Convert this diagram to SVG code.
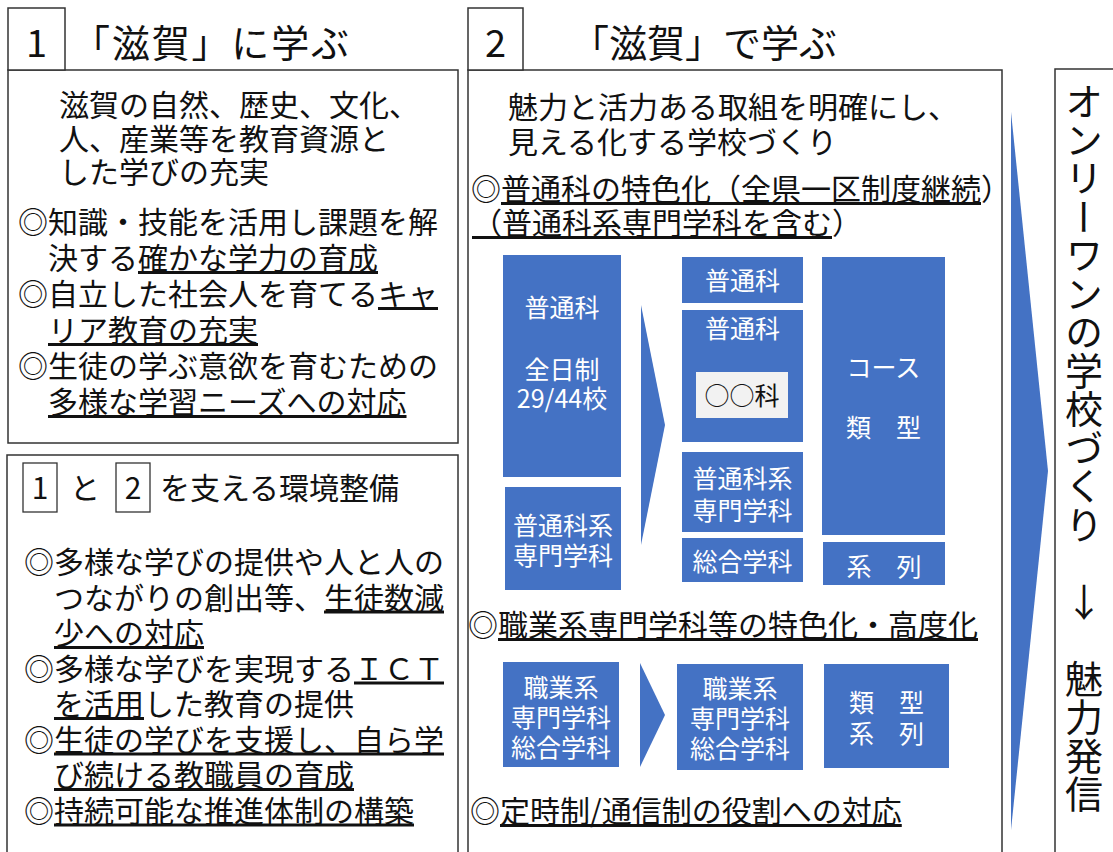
<svg xmlns="http://www.w3.org/2000/svg" width="1113" height="852" viewBox="0 0 1113 852">
<style>
text { font-family: "Noto Sans CJK JP", "Noto Sans CJK SC", sans-serif; fill: #111; }
.t30 { font-size: 30px; }
.title { font-size: 38px; }
.box { fill: #fff; stroke: #333; stroke-width: 1.5; }
.sbox { fill: none; stroke: #333; stroke-width: 1.3; }
.blue { fill: #4472C4; }
.w { fill: #fff; font-size: 25px; text-anchor: middle; }
.u { text-decoration: underline; text-decoration-thickness: 1.2px; }
.vt { font-size: 38px; writing-mode: vertical-rl; text-orientation: upright; letter-spacing: 0.5px; }
</style>
<rect x="0" y="0" width="1113" height="852" fill="#fff"/>

<g id="panel1">
<rect class="box" x="8" y="70" width="450" height="373"/>
<rect class="box" x="8" y="8" width="57" height="62"/>
<text class="title" x="36.5" y="57" text-anchor="middle">1</text>
<text class="title" x="72" y="57" textLength="277" lengthAdjust="spacing">「滋賀」に学ぶ</text>
<text class="t30"><tspan x="59" y="116">滋賀の自然、歴史、文化、</tspan><tspan x="59" y="150">人、産業等を教育資源と</tspan><tspan x="59" y="183">した学びの充実</tspan></text>
<text class="t30"><tspan x="18" y="233">◎知識・技能を活用し課題を解</tspan><tspan x="48" y="269">決する<tspan class="u">確かな学力の育成</tspan></tspan></text>
<text class="t30"><tspan x="18" y="305">◎自立した社会人を育てる<tspan class="u">キャ</tspan></tspan><tspan x="48" y="341" class="u">リア教育の充実</tspan></text>
<text class="t30"><tspan x="18" y="377">◎生徒の学ぶ意欲を育むための</tspan><tspan x="48" y="413" class="u">多様な学習ニーズへの対応</tspan></text>
</g>

<g id="panel3">
<rect class="box" x="7" y="455" width="451" height="420"/>
<rect class="sbox" x="23" y="463" width="34" height="49"/>
<text class="t30" x="40" y="499" text-anchor="middle">1</text>
<text class="t30" x="70" y="499">と</text>
<rect class="sbox" x="116" y="463" width="34" height="49"/>
<text class="t30" x="133" y="499" text-anchor="middle">2</text>
<text class="t30" x="160" y="499">を支える環境整備</text>
<text class="t30"><tspan x="24" y="573">◎多様な学びの提供や人と人の</tspan><tspan x="54" y="608.5">つながりの創出等、<tspan class="u">生徒数減</tspan></tspan><tspan x="54" y="644" class="u">少への対応</tspan></text>
<text class="t30"><tspan x="24" y="679.5">◎多様な学びを実現する<tspan class="u">ＩＣＴ</tspan></tspan><tspan x="54" y="715"><tspan class="u">を活用</tspan>した教育の提供</tspan></text>
<text class="t30"><tspan x="24" y="750.5">◎<tspan class="u">生徒の学びを支援し、自ら学</tspan></tspan><tspan x="54" y="786" class="u">び続ける教職員の育成</tspan></text>
<text class="t30" x="24" y="821.5">◎<tspan class="u">持続可能な推進体制の構築</tspan></text>
</g>

<g id="panel2">
<rect class="box" x="468" y="70" width="534" height="805"/>
<rect class="box" x="468" y="8" width="55" height="62"/>
<text class="title" x="495.5" y="57" text-anchor="middle">2</text>
<text class="title" x="571" y="57">「滋賀」で学ぶ</text>
<text class="t30"><tspan x="508" y="118">魅力と活力ある取組を明確にし、</tspan><tspan x="508" y="153">見える化する学校づくり</tspan></text>
<text class="t30"><tspan x="471" y="200">◎<tspan class="u">普通科の特色化（全県一区制度継続</tspan>）</tspan><tspan x="472" y="234"><tspan class="u">（普通科系専門学科を含む</tspan>）</tspan></text>
<text class="t30" x="468" y="636">◎<tspan class="u">職業系専門学科等の特色化・高度化</tspan></text>
<text class="t30" x="470" y="822">◎<tspan class="u">定時制/通信制の役割への対応</tspan></text>
</g>

<g id="futsuka-zennichisei">
<rect class="blue" x="503" y="255" width="118" height="222"/>
<text class="w"><tspan x="562" y="317">普通科</tspan><tspan x="562" y="379">全日制</tspan><tspan x="562" y="408">29/44校</tspan></text>
</g>
<g id="futsukakei-senmon">
<rect class="blue" x="505" y="487" width="116" height="103"/>
<text class="w"><tspan x="563" y="535">普通科系</tspan><tspan x="563" y="565">専門学科</tspan></text>
</g>
<g id="new-futsuka">
<rect class="blue" x="682" y="257" width="121" height="46"/>
<text class="w" x="742.5" y="290">普通科</text>
</g>
<g id="new-futsuka-maruka">
<rect class="blue" x="682" y="310" width="121" height="132"/>
<text class="w" x="742.5" y="338">普通科</text>
<rect x="696" y="372" width="92" height="46" fill="#F2F2F2"/>
<text x="742" y="405" font-size="25" text-anchor="middle">○○科</text>
</g>
<g id="new-futsukakei-senmon">
<rect class="blue" x="682" y="452" width="121" height="80"/>
<text class="w"><tspan x="742.5" y="488">普通科系</tspan><tspan x="742.5" y="520">専門学科</tspan></text>
</g>
<g id="new-sogo">
<rect class="blue" x="682" y="538" width="121" height="44"/>
<text class="w" x="742.5" y="571">総合学科</text>
</g>
<g id="course-ruikei">
<rect class="blue" x="822" y="257" width="123" height="278"/>
<text class="w"><tspan x="883.5" y="377">コース</tspan><tspan x="883.5" y="437">類　型</tspan></text>
</g>
<g id="keiretsu">
<rect class="blue" x="823" y="542" width="122" height="43"/>
<text class="w" x="884" y="576">系　列</text>
</g>

<g id="shokugyo-before">
<rect class="blue" x="503" y="662" width="116" height="105"/>
<text class="w"><tspan x="561" y="697">職業系</tspan><tspan x="561" y="727">専門学科</tspan><tspan x="561" y="757">総合学科</tspan></text>
</g>
<g id="shokugyo-after">
<rect class="blue" x="677" y="664" width="126" height="106"/>
<text class="w"><tspan x="740" y="698">職業系</tspan><tspan x="740" y="728">専門学科</tspan><tspan x="740" y="758">総合学科</tspan></text>
</g>
<g id="ruikei-keiretsu">
<rect class="blue" x="824" y="664" width="125" height="104"/>
<text class="w"><tspan x="886.5" y="712">類　型</tspan><tspan x="886.5" y="743">系　列</tspan></text>
</g>

<g id="result">
<rect class="box" x="1055" y="69" width="80" height="800"/>
<text class="vt" x="1084" y="82">オンリーワンの学校づくり　↓　魅力発信</text>
</g>

<g id="connectors">
<polygon class="blue" points="641,305 665,425 641,545"/>
<polygon class="blue" points="640,663 665,715 640,767"/>
<polygon class="blue" points="1011,112 1048,471 1011,830"/>
</g>
</svg>
